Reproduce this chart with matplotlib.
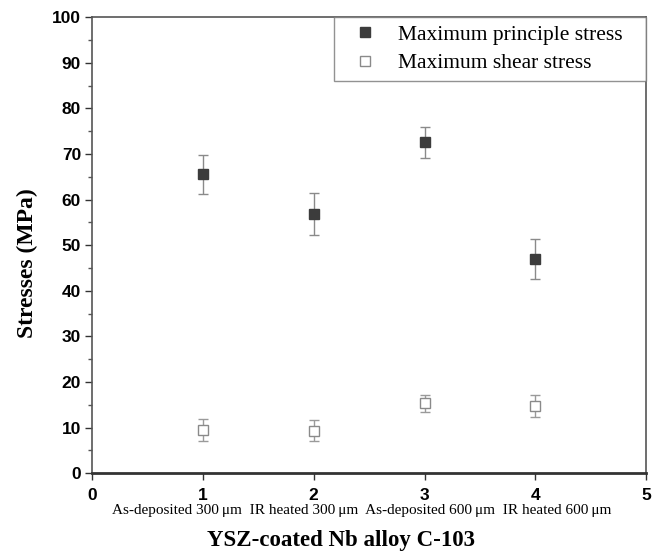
import matplotlib.pyplot as plt
from matplotlib.lines import Line2D
from matplotlib.ticker import MultipleLocator

# data
samples = [1, 2, 3, 4]
sample_names = ["As-deposited 300\u2009\u03bcm", "IR heated 300\u2009\u03bcm",
                "As-deposited 600\u2009\u03bcm", "IR heated 600\u2009\u03bcm"]
series_names = ["Maximum principle stress", "Maximum shear stress"]
principle = [65.5, 56.8, 72.6, 47.0]
principle_err = [4.2, 4.6, 3.4, 4.4]
shear = [9.5, 9.3, 15.3, 14.7]
shear_err = [2.4, 2.3, 1.8, 2.5]

serif = ['Liberation Serif', 'DejaVu Serif']
plt.rcParams['font.family'] = ['Liberation Sans', 'DejaVu Sans']

fig = plt.figure(figsize=(6.58, 5.54), dpi=100)
ax = fig.add_axes([0.14, 0.146, 0.842, 0.823])

ax.errorbar(samples, principle, yerr=principle_err, fmt='s', color='#3c3c3c',
            ms=6.5, ecolor='#8a8a8a', elinewidth=1, capsize=3.5, capthick=1)
ax.errorbar(samples, shear, yerr=shear_err, fmt='s', mfc='white', mec='#8a8a8a',
            ms=6.5, mew=1, ecolor='#9a9a9a', elinewidth=1, capsize=3.5, capthick=1)

ax.set_xlim(0, 5)
ax.set_ylim(0, 100)
ax.xaxis.set_major_locator(MultipleLocator(1))
ax.yaxis.set_major_locator(MultipleLocator(10))
ax.yaxis.set_minor_locator(MultipleLocator(5))
ax.tick_params(direction='out', length=5, width=1, colors='#333333', labelsize=12.5, pad=3)
ax.tick_params(which='minor', direction='out', length=3, width=1, colors='#555555')
ax.tick_params(axis='x', pad=6)
for lab in ax.get_xticklabels() + ax.get_yticklabels():
    lab.set_fontweight('bold')
    lab.set_color('black')

for s in ax.spines.values():
    s.set_color('#555555')
    s.set_linewidth(1.2)
ax.spines['bottom'].set_linewidth(2)
ax.spines['bottom'].set_color('#333333')

# sample names, written as one line under the tick numbers
ax.text(0.486, -0.081, "  ".join(sample_names), transform=ax.transAxes, ha='center',
        va='center', fontsize=11, family=serif)

ax.set_ylabel('Stresses (MPa)', fontsize=17, fontweight='bold', family=serif)
ax.yaxis.set_label_coords(-0.116, 0.46)
ax.yaxis.label.set_va('center')
ax.set_xlabel('YSZ-coated Nb alloy C-103', fontsize=16.5, fontweight='bold', family=serif)
ax.xaxis.set_label_coords(0.45, -0.148)
ax.xaxis.label.set_va('center')

handles = [Line2D([], [], ls='none', marker='s', ms=6.5, color='#3c3c3c'),
           Line2D([], [], ls='none', marker='s', ms=6.5, mfc='white', mec='#8a8a8a', mew=1)]
# trailing spaces widen the right margin of the box like the reference
leg = ax.legend(handles, [n + '   ' for n in series_names],
                loc='upper right', borderaxespad=0, frameon=True, fancybox=False,
                prop={'family': serif, 'size': 15.5}, handlelength=2.1,
                handletextpad=0.5, borderpad=0.35, labelspacing=0.4)
leg.get_frame().set_edgecolor('#777777')
leg.get_frame().set_linewidth(1)

fig.savefig('out.png', dpi=100)
